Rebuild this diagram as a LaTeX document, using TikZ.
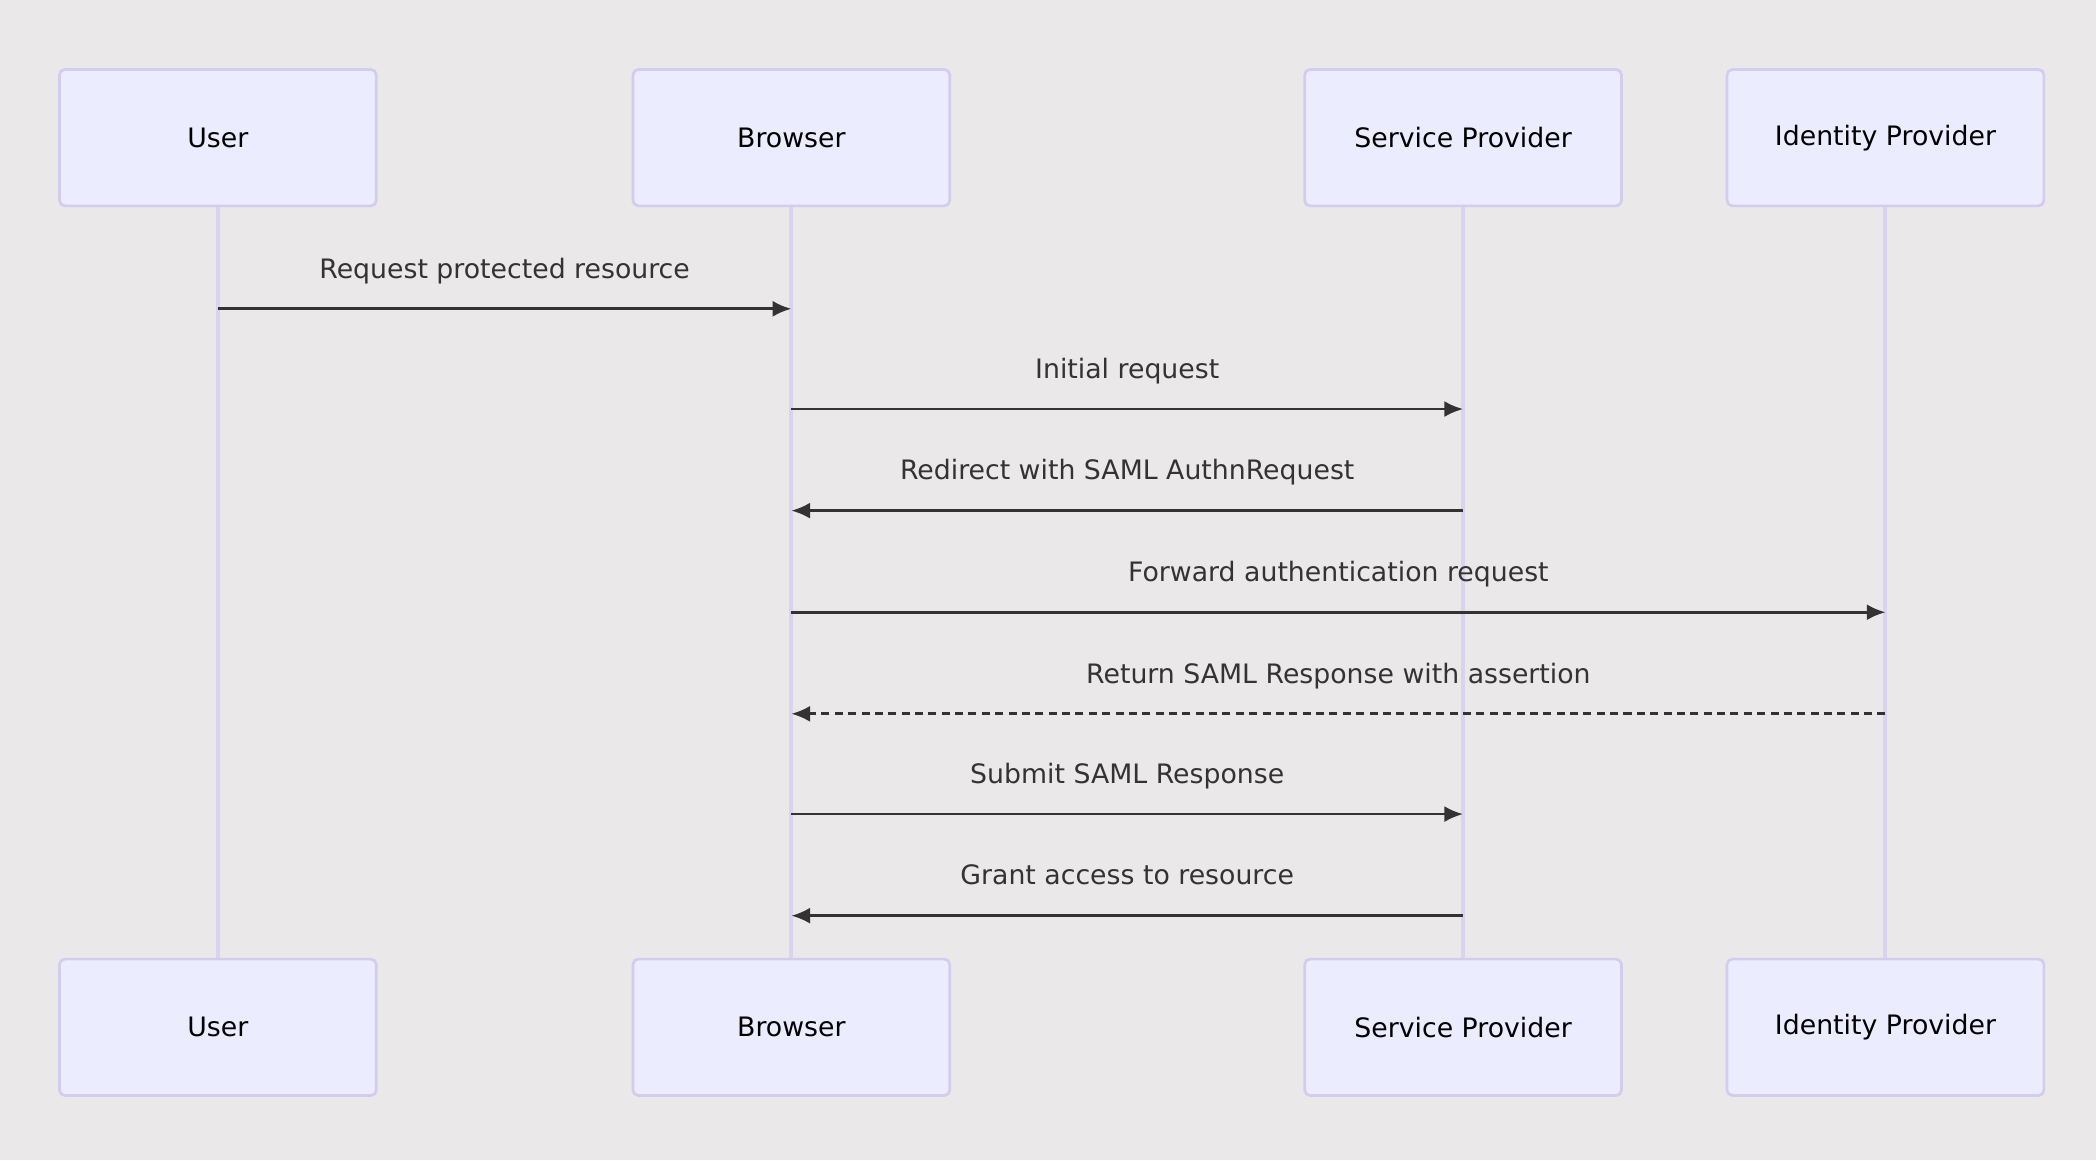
\documentclass[tikz,border=0pt]{standalone}
\usepackage{fontspec}
\setmainfont{DejaVu Sans}
\usetikzlibrary{arrows.meta,calc}
\definecolor{bg}{HTML}{EAE8E9}
\definecolor{boxf}{HTML}{ECECFF}
\definecolor{boxd}{HTML}{D2CDEF}
\definecolor{life}{HTML}{D8D3EE}
\definecolor{ink}{HTML}{333333}
\begin{document}
\begin{tikzpicture}[x=0.5pt,y=-0.5pt,
  actor/.style={draw=boxd,fill=boxf,line width=1pt,rounded corners=2pt,minimum width=118.5pt,minimum height=51pt,font=\fontsize{10}{12}\selectfont,text=black},
  life/.style={draw=life,line width=1.5pt},
  msg/.style={draw=ink,line width=1pt,-{Latex[length=7pt,width=6pt]}},
  rmsg/.style={msg,dash pattern=on 3pt off 2pt},
  lbl/.style={font=\fontsize{10}{12}\selectfont,text=ink,anchor=base}]
\fill[bg] (0,0) rectangle (1568,868);
\useasboundingbox (0,0) rectangle (1568,868);
\foreach \n/\x/\t in {u/163/User,b/592/Browser,s/1094.5/Service Provider,i/1410.5/Identity Provider}{
  \node[actor] (\n t) at (\x,103) {\t};
  \node[actor] (\n b) at (\x,768.5) {\t};
  \draw[life] (\n t.south) -- (\n b.north);
}
\foreach \a/\b/\y/\t/\s in {u/b/231/Request protected resource/msg,
  b/s/306/Initial request/msg,
  s/b/382/Redirect with SAML AuthnRequest/msg,
  b/i/458/Forward authentication request/msg,
  i/b/534/Return SAML Response with assertion/rmsg,
  b/s/609/Submit SAML Response/msg,
  s/b/685/Grant access to resource/msg}{
  \coordinate (p) at (\a t.south |- 0,\y);
  \coordinate (q) at (\b t.south |- 0,\y);
  \draw[\s] (p) -- (q);
  \node[lbl] (l) at ($(p)!0.5!(q)+(0,-23)$) {\t};
}
\end{tikzpicture}
\end{document}
